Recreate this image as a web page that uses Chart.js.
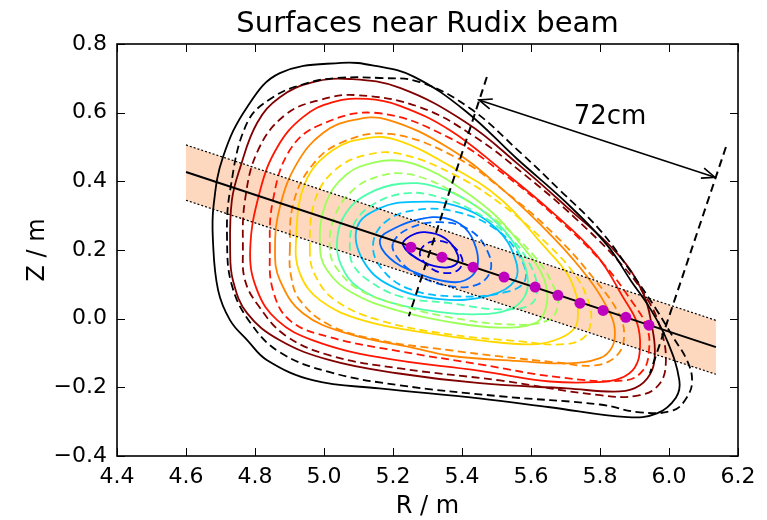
<!DOCTYPE html>
<html>
<head>
<meta charset="utf-8">
<title>Surfaces near Rudix beam</title>
<script src="https://cdn.jsdelivr.net/npm/chart.js@4.4.1/dist/chart.umd.min.js"></script>
<style>
  html, body { margin: 0; padding: 0; background: #fff; }
  #wrap { width: 767px; height: 520px; }
</style>
</head>
<body>
<div id="wrap"><canvas id="chart" width="767" height="520"></canvas></div>
<script>
// axis ticks
const rTicks = [4.4, 4.6, 4.8, 5.0, 5.2, 5.4, 5.6, 5.8, 6.0, 6.2];
const zTicks = [-0.4, -0.2, 0.0, 0.2, 0.4, 0.6, 0.8];

// flux surfaces, [R, Z] in metres, each one a closed loop
// (solid = one equilibrium, dashed = the other)
const blackSolid = [[4.678,0.229],[4.68,0.33],[4.707,0.47],[4.777,0.616],[4.872,0.715],[5.05,0.745],[5.15,0.736],[5.26,0.705],[5.41,0.605],[5.56,0.465],[5.70,0.34],[5.82,0.215],[5.89,0.11],[5.945,0.03],[5.995,-0.065],[6.03,-0.18],[6.02,-0.23],[5.965,-0.276],[5.88,-0.287],[5.655,-0.258],[5.45,-0.232],[5.16,-0.203],[4.97,-0.18],[4.835,-0.121],[4.778,-0.063],[4.728,-0.005],[4.693,0.083]];
const blackDashed = [[4.719,0.229],[4.728,0.374],[4.777,0.570],[4.852,0.645],[4.951,0.686],[5.038,0.701],[5.162,0.701],[5.278,0.689],[5.423,0.613],[5.568,0.485],[5.684,0.374],[5.800,0.258],[5.896,0.127],[5.965,0.024],[6.012,-0.054],[6.052,-0.121],[6.067,-0.180],[6.052,-0.229],[6.012,-0.267],[5.916,-0.273],[5.800,-0.250],[5.510,-0.226],[5.220,-0.194],[5.017,-0.156],[4.872,-0.098],[4.786,-0.011],[4.733,0.097]];
const maroonSolid = [[4.728,0.199],[4.733,0.345],[4.757,0.440],[4.806,0.570],[4.872,0.645],[4.968,0.689],[5.075,0.698],[5.220,0.672],[5.414,0.570],[5.559,0.453],[5.704,0.325],[5.849,0.191],[5.925,0.074],[5.951,-0.025],[5.959,-0.092],[5.951,-0.150],[5.916,-0.194],[5.858,-0.212],[5.704,-0.203],[5.452,-0.188],[5.212,-0.159],[5.017,-0.121],[4.872,-0.063],[4.777,0.016],[4.736,0.112]];
const maroonDashed = [[4.765,0.199],[4.771,0.345],[4.809,0.491],[4.887,0.593],[4.988,0.637],[5.096,0.651],[5.278,0.616],[5.438,0.529],[5.583,0.418],[5.728,0.293],[5.864,0.156],[5.939,0.054],[5.977,-0.034],[5.991,-0.121],[5.974,-0.188],[5.916,-0.223],[5.800,-0.223],[5.510,-0.180],[5.220,-0.145],[5.017,-0.107],[4.887,-0.048],[4.809,0.039],[4.771,0.112]];
const redSolid = [[4.786,0.199],[4.815,0.374],[4.865,0.500],[4.939,0.587],[5.026,0.631],[5.125,0.640],[5.220,0.620],[5.365,0.549],[5.510,0.437],[5.655,0.316],[5.790,0.185],[5.867,0.062],[5.907,-0.011],[5.916,-0.083],[5.901,-0.142],[5.858,-0.174],[5.790,-0.185],[5.655,-0.183],[5.452,-0.152],[5.162,-0.113],[4.968,-0.063],[4.865,-0.005],[4.806,0.083]];
const redDashed = [[4.843,0.199],[4.852,0.345],[4.901,0.491],[4.988,0.564],[5.154,0.599],[5.365,0.526],[5.525,0.418],[5.670,0.298],[5.806,0.164],[5.896,0.045],[5.936,-0.025],[5.942,-0.092],[5.925,-0.150],[5.872,-0.180],[5.684,-0.171],[5.452,-0.133],[5.220,-0.095],[5.017,-0.054],[4.901,-0.005],[4.852,0.083]];
const orangeSolid = [[4.858,0.199],[4.872,0.325],[4.922,0.453],[4.997,0.541],[5.084,0.578],[5.183,0.580],[5.365,0.495],[5.510,0.383],[5.664,0.237],[5.771,0.112],[5.829,0.016],[5.843,-0.034],[5.835,-0.083],[5.800,-0.115],[5.704,-0.130],[5.559,-0.123],[5.365,-0.108],[5.258,-0.085],[5.067,-0.043],[4.939,0.016],[4.872,0.112]];
const orangeDashed = [[4.901,0.199],[4.910,0.331],[4.959,0.438],[5.046,0.511],[5.191,0.538],[5.380,0.471],[5.525,0.370],[5.670,0.243],[5.786,0.112],[5.852,0.019],[5.870,-0.048],[5.849,-0.107],[5.786,-0.136],[5.670,-0.127],[5.510,-0.110],[5.365,-0.092],[5.162,-0.063],[5.017,-0.019],[4.930,0.054],[4.904,0.127]];
const yellowSolid = [[4.919,0.229],[4.945,0.395],[5.026,0.491],[5.125,0.526],[5.212,0.520],[5.365,0.445],[5.510,0.350],[5.635,0.214],[5.704,0.132],[5.733,0.062],[5.736,0.016],[5.728,-0.025],[5.684,-0.057],[5.606,-0.075],[5.452,-0.063],[5.307,-0.043],[5.113,-0.005],[4.988,0.054],[4.930,0.132]];
const yellowDashed = [[4.959,0.199],[4.974,0.345],[5.032,0.433],[5.119,0.476],[5.220,0.480],[5.380,0.418],[5.525,0.325],[5.655,0.210],[5.728,0.127],[5.765,0.054],[5.774,-0.005],[5.751,-0.057],[5.684,-0.075],[5.568,-0.066],[5.365,-0.046],[5.162,-0.005],[5.032,0.054],[4.974,0.127]];
const greenSolid = [[4.988,0.214],[5.005,0.335],[5.065,0.420],[5.150,0.456],[5.220,0.460],[5.290,0.440],[5.365,0.400],[5.490,0.307],[5.577,0.208],[5.626,0.141],[5.646,0.083],[5.641,0.024],[5.612,-0.013],[5.510,-0.026],[5.365,-0.010],[5.212,0.024],[5.084,0.074],[5.009,0.141]];
const greenDashed = [[5.017,0.199],[5.032,0.301],[5.090,0.380],[5.160,0.415],[5.229,0.423],[5.300,0.405],[5.380,0.365],[5.510,0.278],[5.612,0.179],[5.664,0.097],[5.678,0.039],[5.649,-0.005],[5.539,-0.017],[5.365,0.004],[5.220,0.039],[5.104,0.083],[5.041,0.141]];
const aquaSolid = [[5.038,0.229],[5.065,0.310],[5.130,0.365],[5.220,0.393],[5.320,0.385],[5.430,0.335],[5.520,0.260],[5.572,0.180],[5.591,0.112],[5.580,0.062],[5.540,0.028],[5.450,0.013],[5.330,0.020],[5.200,0.045],[5.100,0.090],[5.050,0.155]];
const aquaDashed = [[5.075,0.199],[5.085,0.272],[5.140,0.331],[5.235,0.365],[5.330,0.355],[5.440,0.310],[5.540,0.235],[5.596,0.160],[5.617,0.092],[5.600,0.042],[5.510,0.027],[5.365,0.045],[5.220,0.065],[5.128,0.112],[5.085,0.156]];
const cyanSolid = [[5.096,0.266],[5.162,0.322],[5.258,0.340],[5.386,0.328],[5.500,0.262],[5.554,0.175],[5.554,0.112],[5.481,0.068],[5.336,0.057],[5.191,0.097],[5.113,0.170]];
const cyanDashed = [[5.142,0.214],[5.177,0.281],[5.264,0.316],[5.380,0.312],[5.496,0.262],[5.565,0.185],[5.583,0.112],[5.525,0.077],[5.380,0.065],[5.249,0.086],[5.171,0.141]];
const blueSolid = [[5.162,0.229],[5.206,0.264],[5.278,0.290],[5.351,0.293],[5.409,0.264],[5.441,0.205],[5.443,0.147],[5.409,0.112],[5.351,0.109],[5.264,0.135],[5.191,0.176]];
const blueDashed = [[5.200,0.220],[5.249,0.264],[5.336,0.281],[5.423,0.258],[5.475,0.194],[5.481,0.135],[5.438,0.097],[5.351,0.097],[5.264,0.132],[5.214,0.176]];
const navySolid = [[5.229,0.214],[5.249,0.240],[5.293,0.252],[5.351,0.234],[5.388,0.185],[5.380,0.156],[5.336,0.150],[5.278,0.170]];
const navyDashed = [[5.278,0.194],[5.307,0.223],[5.359,0.220],[5.400,0.176],[5.388,0.141],[5.336,0.135],[5.293,0.162]];

// beam and its band
const beamLine = [[4.6,0.427],[6.136,-0.083]];
const bandTop = [[4.6,0.506],[6.136,-0.005]];
const bandBottom = [[4.6,0.345],[6.136,-0.162]];
const chordR = [5.252,5.342,5.432,5.522,5.612,5.678,5.742,5.809,5.875,5.942];
const chordZ = [0.208,0.179,0.150,0.121,0.092,0.068,0.045,0.024,0.004,-0.019];

// sight lines and the 72 cm span between them
const sightNear = [[5.472,0.704],[5.246,0.007]];
const sightFar = [[6.165,0.500],[5.945,-0.159]];
const spanArrow = [[5.449,0.637],[6.133,0.412]];
const spanLabel = '72cm';

const levels = [
  { color: '#000000', solid: blackSolid,  dashed: blackDashed },
  { color: '#800000', solid: maroonSolid, dashed: maroonDashed },
  { color: '#ff1500', solid: redSolid,    dashed: redDashed },
  { color: '#ff8800', solid: orangeSolid, dashed: orangeDashed },
  { color: '#ffd800', solid: yellowSolid, dashed: yellowDashed },
  { color: '#9dff5a', solid: greenSolid,  dashed: greenDashed },
  { color: '#4effaa', solid: aquaSolid,   dashed: aquaDashed },
  { color: '#00bfff', solid: cyanSolid,   dashed: cyanDashed },
  { color: '#0064ff', solid: blueSolid,   dashed: blueDashed },
  { color: '#0000e6', solid: navySolid,   dashed: navyDashed }
];

const FONT = '"DejaVu Sans", "Liberation Sans", sans-serif';

function toPoints(arr) {
  return arr.map(p => ({ x: p[0], y: p[1] }));
}

function fmt(v) {
  if (Math.abs(v) < 1e-9) return '0.0';
  return v.toFixed(1).replace('-', '\u2212');
}

const datasets = [];

// band fill (two invisible edges, filled between)
datasets.push({
  data: toPoints(bandTop), showLine: true, borderWidth: 1,
  borderColor: 'rgba(0,0,0,0)', pointRadius: 0, fill: false, order: 100
});
datasets.push({
  data: toPoints(bandBottom), showLine: true, borderWidth: 1,
  borderColor: 'rgba(0,0,0,0)', pointRadius: 0, fill: '-1',
  backgroundColor: 'rgb(253,216,191)', order: 100
});

levels.forEach(lv => {
  datasets.push({
    data: toPoints(lv.solid), closed: true, showLine: true, borderColor: lv.color,
    borderWidth: 1.8, tension: 0.4, pointRadius: 0, fill: false, order: 50
  });
  datasets.push({
    data: toPoints(lv.dashed), closed: true, showLine: true, borderColor: lv.color,
    borderWidth: 1.8, borderDash: [8, 4.5], tension: 0.4, pointRadius: 0, fill: false, order: 50
  });
});

[bandTop, bandBottom].forEach(edge => {
  datasets.push({
    data: toPoints(edge), showLine: true, borderColor: '#000',
    borderWidth: 1.2, borderDash: [2, 2], pointRadius: 0, fill: false, order: 20
  });
});

datasets.push({
  data: toPoints(beamLine), showLine: true, borderColor: '#000',
  borderWidth: 2, pointRadius: 0, fill: false, order: 10
});

[sightNear, sightFar].forEach(line => {
  datasets.push({
    data: toPoints(line), showLine: true, borderColor: '#000',
    borderWidth: 2, borderDash: [8, 5], pointRadius: 0, fill: false, order: 5
  });
});

datasets.push({
  data: chordR.map((r, i) => ({ x: r, y: chordZ[i] })),
  showLine: false, pointRadius: 5.5, pointBackgroundColor: '#bf00bf',
  pointBorderColor: '#bf00bf', pointBorderWidth: 0, order: 0
});

// make the surface lines closed, smooth loops (same trick the radar chart uses)
const closeLoops = {
  id: 'closeLoops',
  afterDatasetUpdate(chart, args) {
    const ds = chart.data.datasets[args.index];
    const line = args.meta.dataset;
    if (!ds.closed || !line) return;
    line._loop = true;
    line._fullLoop = true;
    delete line._segments;
    delete line._path;
    line._pointsUpdated = false;
  }
};

const decorations = {
  id: 'decorations',
  afterDatasetsDraw(chart) {
    const ctx = chart.ctx;
    const xs = chart.scales.x, ys = chart.scales.y;
    const a = { x: xs.getPixelForValue(spanArrow[0][0]), y: ys.getPixelForValue(spanArrow[0][1]) };
    const b = { x: xs.getPixelForValue(spanArrow[1][0]), y: ys.getPixelForValue(spanArrow[1][1]) };
    ctx.save();
    ctx.strokeStyle = '#000';
    ctx.lineWidth = 1.6;
    ctx.beginPath();
    ctx.moveTo(a.x, a.y);
    ctx.lineTo(b.x, b.y);
    ctx.stroke();
    const head = (tip, from) => {
      const ang = Math.atan2(from.y - tip.y, from.x - tip.x);
      ctx.beginPath();
      ctx.moveTo(tip.x + 14 * Math.cos(ang + 0.38), tip.y + 14 * Math.sin(ang + 0.38));
      ctx.lineTo(tip.x, tip.y);
      ctx.lineTo(tip.x + 14 * Math.cos(ang - 0.38), tip.y + 14 * Math.sin(ang - 0.38));
      ctx.stroke();
    };
    head(a, b);
    head(b, a);
    ctx.fillStyle = '#000';
    ctx.font = '26px ' + FONT;
    ctx.textAlign = 'center';
    ctx.textBaseline = 'alphabetic';
    ctx.fillText(spanLabel, xs.getPixelForValue(5.829), ys.getPixelForValue(0.567));
    ctx.restore();
  },
  afterDraw(chart) {
    const ctx = chart.ctx;
    const area = chart.chartArea;
    const xs = chart.scales.x, ys = chart.scales.y;
    ctx.save();
    ctx.strokeStyle = '#000';
    ctx.lineWidth = 1;
    ctx.beginPath();
    rTicks.forEach(v => {
      const px = Math.round(xs.getPixelForValue(v)) + 0.5;
      ctx.moveTo(px, area.bottom); ctx.lineTo(px, area.bottom - 8);
      ctx.moveTo(px, area.top); ctx.lineTo(px, area.top + 8);
    });
    zTicks.forEach(v => {
      const py = Math.round(ys.getPixelForValue(v)) + 0.5;
      ctx.moveTo(area.left, py); ctx.lineTo(area.left + 8, py);
      ctx.moveTo(area.right, py); ctx.lineTo(area.right - 8, py);
    });
    ctx.stroke();
    ctx.lineWidth = 1.6;
    ctx.strokeRect(area.left, area.top, area.right - area.left, area.bottom - area.top);

    ctx.fillStyle = '#000';
    ctx.textAlign = 'center';
    ctx.textBaseline = 'alphabetic';
    const cx = (area.left + area.right) / 2;
    ctx.font = '29px ' + FONT;
    ctx.fillText('Surfaces near Rudix beam', cx, 32);
    ctx.font = '24px ' + FONT;
    ctx.fillText('R / m', cx, 513);
    ctx.translate(44, (area.top + area.bottom) / 2);
    ctx.rotate(-Math.PI / 2);
    ctx.fillText('Z / m', 0, 0);
    ctx.restore();
  }
};

new Chart(document.getElementById('chart'), {
  type: 'scatter',
  data: { datasets: datasets },
  options: {
    responsive: false,
    animation: false,
    events: [],
    layout: { padding: { top: 44, right: 29, left: 0, bottom: 0 } },
    plugins: {
      legend: { display: false },
      tooltip: { enabled: false },
      title: { display: false }
    },
    scales: {
      x: {
        type: 'linear', min: 4.4, max: 6.2,
        afterBuildTicks: scale => { scale.ticks = rTicks.map(v => ({ value: v })); },
        afterFit: scale => { scale.height = 64; },
        ticks: {
          callback: v => fmt(v), color: '#000', padding: 8, maxRotation: 0,
          autoSkip: false, font: { family: FONT, size: 22 }
        },
        grid: { display: false, drawTicks: false },
        border: { display: false }
      },
      y: {
        type: 'linear', min: -0.4, max: 0.8,
        afterBuildTicks: scale => { scale.ticks = zTicks.map(v => ({ value: v })); },
        afterFit: scale => { scale.width = 117; },
        ticks: {
          callback: v => fmt(v), color: '#000', padding: 10,
          autoSkip: false, font: { family: FONT, size: 22 }
        },
        grid: { display: false, drawTicks: false },
        border: { display: false }
      }
    }
  },
  plugins: [closeLoops, decorations]
});
</script>
</body>
</html>
